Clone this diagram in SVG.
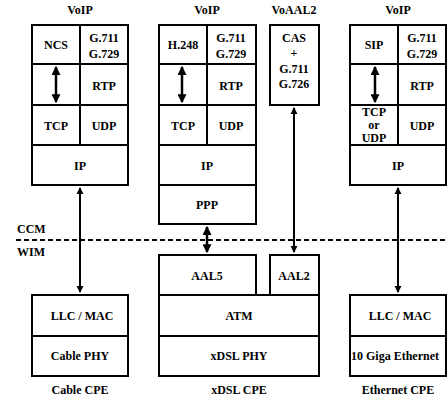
<svg xmlns="http://www.w3.org/2000/svg" width="448" height="396" viewBox="0 0 448 396">
<style>
.b{fill:#fff;stroke:#000;stroke-width:2}
text{font-family:"Liberation Serif",serif;font-weight:bold;font-size:12px;text-anchor:middle;fill:#000}
.l{text-anchor:start}
.c{stroke:#000;stroke-width:2;fill:none}
.a{stroke:#000;stroke-width:2.5;fill:none}
.d{stroke:#000;stroke-width:2;stroke-dasharray:5,3}
</style>
<defs>
<marker id="ah" viewBox="0 0 8 8" refX="7" refY="4" markerWidth="3.6" markerHeight="3.6" orient="auto-start-reverse" markerUnits="strokeWidth">
<path d="M0,0 L8,4 L0,8 z" fill="#000"/>
</marker>
</defs>
<g id="voip-ncs">
<text x="80" y="14">VoIP</text>
<rect class="b" x="32" y="25" width="96" height="160"/>
<line class="c" x1="32" y1="64" x2="80" y2="64"/>
<line class="c" x1="80" y1="25" x2="80" y2="145"/>
<line class="c" x1="80" y1="64" x2="128" y2="64"/>
<line class="c" x1="80" y1="105" x2="128" y2="105"/>
<line class="c" x1="32" y1="105" x2="80" y2="105"/>
<line class="c" x1="32" y1="145" x2="128" y2="145"/>
<text x="56" y="49">NCS</text>
<text x="104" y="42">G.711</text>
<text x="104" y="58">G.729</text>
<text x="104" y="90">RTP</text>
<text x="56" y="130">TCP</text>
<text x="104" y="130">UDP</text>
<text x="80" y="170">IP</text>
</g>
<g id="voip-h248">
<text x="207" y="14">VoIP</text>
<rect class="b" x="159" y="25" width="97" height="199"/>
<line class="c" x1="159" y1="64" x2="207" y2="64"/>
<line class="c" x1="207" y1="25" x2="207" y2="145"/>
<line class="c" x1="207" y1="64" x2="256" y2="64"/>
<line class="c" x1="207" y1="105" x2="256" y2="105"/>
<line class="c" x1="159" y1="105" x2="207" y2="105"/>
<line class="c" x1="159" y1="145" x2="256" y2="145"/>
<line class="c" x1="159" y1="185" x2="256" y2="185"/>
<text x="183" y="49">H.248</text>
<text x="231" y="42">G.711</text>
<text x="231" y="58">G.729</text>
<text x="231" y="90">RTP</text>
<text x="183" y="130">TCP</text>
<text x="231" y="130">UDP</text>
<text x="207" y="170">IP</text>
<text x="207" y="209">PPP</text>
</g>
<g id="voaal2">
<text x="294" y="14">VoAAL2</text>
<rect class="b" x="270" y="25" width="49" height="80"/>
<text x="294" y="42">CAS</text>
<text x="294" y="57">+</text>
<text x="294" y="73">G.711</text>
<text x="294" y="88">G.726</text>
</g>
<g id="voip-sip">
<text x="398" y="14">VoIP</text>
<rect class="b" x="350" y="25" width="96" height="160"/>
<line class="c" x1="350" y1="64" x2="398" y2="64"/>
<line class="c" x1="398" y1="25" x2="398" y2="145"/>
<line class="c" x1="398" y1="64" x2="446" y2="64"/>
<line class="c" x1="398" y1="105" x2="446" y2="105"/>
<line class="c" x1="350" y1="105" x2="398" y2="105"/>
<line class="c" x1="350" y1="145" x2="446" y2="145"/>
<text x="374" y="49">SIP</text>
<text x="422" y="42">G.711</text>
<text x="422" y="58">G.729</text>
<text x="422" y="90">RTP</text>
<text x="374" y="116">TCP</text>
<text x="374" y="129">or</text>
<text x="374" y="142">UDP</text>
<text x="422" y="130">UDP</text>
<text x="398" y="170">IP</text>
</g>
<g id="boundary">
<line class="d" x1="16" y1="240" x2="448" y2="240"/>
<text class="l" x="17" y="233">CCM</text>
<text class="l" x="17" y="256">WIM</text>
</g>
<g id="cable-cpe">
<rect class="b" x="32" y="295" width="96" height="81"/>
<line class="c" x1="32" y1="336" x2="128" y2="336"/>
<text x="82" y="320">LLC / MAC</text>
<text x="80" y="360">Cable PHY</text>
<text x="80" y="394">Cable CPE</text>
</g>
<g id="xdsl-cpe">
<rect class="b" x="159" y="255" width="97" height="40"/>
<rect class="b" x="270" y="255" width="49" height="40"/>
<rect class="b" x="159" y="295" width="160" height="81"/>
<line class="c" x1="159" y1="336" x2="319" y2="336"/>
<text x="207" y="280">AAL5</text>
<text x="294" y="280">AAL2</text>
<text x="239" y="320">ATM</text>
<text x="239" y="360">xDSL PHY</text>
<text x="239" y="394">xDSL CPE</text>
</g>
<g id="ethernet-cpe">
<rect class="b" x="350" y="295" width="96" height="81"/>
<line class="c" x1="350" y1="336" x2="446" y2="336"/>
<text x="400" y="320">LLC / MAC</text>
<text class="l" x="351" y="360">10 Giga Ethernet</text>
<text x="398" y="394">Ethernet CPE</text>
</g>
<g id="connectors">
<line class="a" x1="56" y1="67" x2="56" y2="102" marker-start="url(#ah)" marker-end="url(#ah)"/>
<line class="c" x1="80" y1="188" x2="80" y2="292" marker-start="url(#ah)" marker-end="url(#ah)"/>
<line class="a" x1="182" y1="67" x2="182" y2="102" marker-start="url(#ah)" marker-end="url(#ah)"/>
<line class="a" x1="207" y1="227" x2="207" y2="252" marker-start="url(#ah)" marker-end="url(#ah)"/>
<line class="c" x1="294" y1="108" x2="294" y2="252" marker-start="url(#ah)" marker-end="url(#ah)"/>
<line class="a" x1="375" y1="67" x2="375" y2="102" marker-start="url(#ah)" marker-end="url(#ah)"/>
<line class="c" x1="398" y1="188" x2="398" y2="292" marker-start="url(#ah)" marker-end="url(#ah)"/>
</g>
</svg>
